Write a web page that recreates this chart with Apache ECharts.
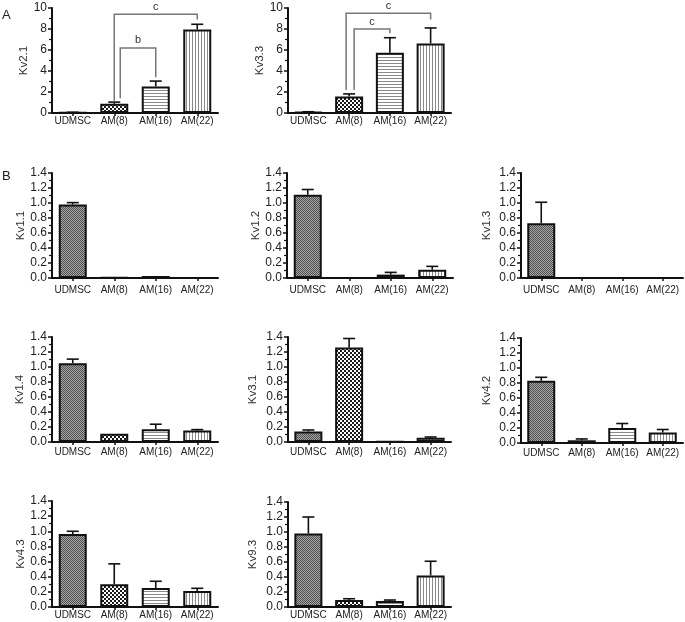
<!DOCTYPE html>
<html>
<head>
<meta charset="utf-8">
<script src="https://cdn.jsdelivr.net/npm/echarts@6/dist/echarts.min.js"></script>
<style>
html,body{margin:0;padding:0;background:#fff;}
#chart{width:685px;height:622px;}
</style>
</head>
<body>
<div id="chart"></div>
<script>
// ---------- DATA ----------
const categories = ['UDMSC', 'AM(8)', 'AM(16)', 'AM(22)'];

const kv21Mean = [0.05, 0.87, 2.52, 7.95];
const kv21Err  = [0.02, 0.17, 0.52, 0.5];
const kv33Mean = [0.1, 1.57, 5.75, 6.62];
const kv33Err  = [0.02, 0.25, 1.42, 1.48];

const kv11Mean = [0.98, 0.01, 0.027, 0.0];
const kv11Err  = [0.025, 0.0, 0.0, 0.0];
const kv12Mean = [1.11, 0.0, 0.045, 0.11];
const kv12Err  = [0.07, 0.0, 0.03, 0.045];
const kv13Mean = [0.73, 0.0, 0.0, 0.0];
const kv13Err  = [0.28, 0.0, 0.0, 0.0];
const kv14Mean = [1.05, 0.11, 0.17, 0.152];
const kv14Err  = [0.055, 0.0, 0.067, 0.013];
const kv31Mean = [0.14, 1.26, 0.005, 0.057];
const kv31Err  = [0.02, 0.12, 0.0, 0.01];
const kv42Mean = [0.83, 0.036, 0.2, 0.14];
const kv42Err  = [0.046, 0.018, 0.06, 0.04];
const kv43Mean = [0.963, 0.3, 0.25, 0.21];
const kv43Err  = [0.037, 0.27, 0.09, 0.037];
const kv93Mean = [0.98, 0.093, 0.08, 0.42];
const kv93Err  = [0.22, 0.017, 0.013, 0.19];

const ticksA = [0, 2, 4, 6, 8, 10];
const ticksB = [0.0, 0.2, 0.4, 0.6, 0.8, 1.0, 1.2, 1.4];

// significance brackets: [fromCat, toCat, barY, legBottomFrom, legBottomTo]
const kv21Brackets = [[1, 2, 6.2, 1.4, 3.4], [1, 3, 9.4, 1.05, 8.9]];
const kv21BracketLabels = ['b', 'c'];
const kv33Brackets = [[1, 2, 8.0, 2.2, 7.6], [1, 3, 9.5, 2.2, 8.9]];
const kv33BracketLabels = ['c', 'c'];

// ---------- PATTERNS ----------
function makePattern(kind) {
  const c = document.createElement('canvas');
  const ctx = c.getContext('2d');
  if (kind === 0) {           // UDMSC: fine grey texture
    c.width = 2; c.height = 2;
    ctx.fillStyle = '#a6a6a6'; ctx.fillRect(0, 0, 2, 2);
    ctx.fillStyle = '#505050'; ctx.fillRect(0, 0, 1, 1); ctx.fillRect(1, 1, 1, 1);
  } else if (kind === 1) {    // AM(8): checkerboard
    c.width = 4; c.height = 4;
    ctx.fillStyle = '#1a1a1a'; ctx.fillRect(0, 0, 4, 4);
    ctx.fillStyle = '#ffffff'; ctx.fillRect(0, 0, 2, 2); ctx.fillRect(2, 2, 2, 2);
  } else if (kind === 2) {    // AM(16): horizontal lines
    c.width = 3; c.height = 3;
    ctx.fillStyle = '#ffffff'; ctx.fillRect(0, 0, 3, 3);
    ctx.fillStyle = '#8a8a8a'; ctx.fillRect(0, 0, 3, 1);
  } else {                    // AM(22): vertical lines
    c.width = 3; c.height = 3;
    ctx.fillStyle = '#ffffff'; ctx.fillRect(0, 0, 3, 3);
    ctx.fillStyle = '#8a8a8a'; ctx.fillRect(0, 0, 1, 3);
  }
  return { image: c, repeat: 'repeat' };
}
const patterns = [0, 1, 2, 3].map(makePattern);

// ---------- LAYOUT ----------
const FONT = '"Liberation Sans", Arial, sans-serif';
const panels = [
  { name: 'Kv2.1', mean: kv21Mean, err: kv21Err, ticks: ticksA, brackets: kv21Brackets, blabels: kv21BracketLabels, legDx: [6, 0],
    grid: { left: 52, top: 8, width: 166, height: 105 }, nameGap: 20, labelMargin: 3 },
  { name: 'Kv3.3', mean: kv33Mean, err: kv33Err, ticks: ticksA, brackets: kv33Brackets, blabels: kv33BracketLabels, legDx: [5, -3],
    grid: { left: 288, top: 8, width: 163, height: 105 }, nameGap: 20, labelMargin: 3 },
  { name: 'Kv1.1', mean: kv11Mean, err: kv11Err, ticks: ticksB, grid: { left: 52, top: 173, width: 166, height: 105 }, nameGap: 25, labelMargin: 7 },
  { name: 'Kv1.2', mean: kv12Mean, err: kv12Err, ticks: ticksB, grid: { left: 287, top: 173, width: 166, height: 105 }, nameGap: 25, labelMargin: 7 },
  { name: 'Kv1.3', mean: kv13Mean, err: kv13Err, ticks: ticksB, grid: { left: 521, top: 173, width: 162, height: 105 }, nameGap: 28, labelMargin: 7 },
  { name: 'Kv1.4', mean: kv14Mean, err: kv14Err, ticks: ticksB, grid: { left: 52, top: 337, width: 166, height: 105 }, nameGap: 26, labelMargin: 5 },
  { name: 'Kv3.1', mean: kv31Mean, err: kv31Err, ticks: ticksB, grid: { left: 288, top: 337, width: 163, height: 105 }, nameGap: 29, labelMargin: 5 },
  { name: 'Kv4.2', mean: kv42Mean, err: kv42Err, ticks: ticksB, grid: { left: 521, top: 338, width: 162, height: 105 }, nameGap: 28, labelMargin: 5 },
  { name: 'Kv4.3', mean: kv43Mean, err: kv43Err, ticks: ticksB, grid: { left: 52, top: 501, width: 166, height: 106 }, nameGap: 25, labelMargin: 3 },
  { name: 'Kv9.3', mean: kv93Mean, err: kv93Err, ticks: ticksB, grid: { left: 288, top: 502, width: 163, height: 105 }, nameGap: 29, labelMargin: 3 }
];

const grids = [], xAxes = [], yAxes = [], series = [];

panels.forEach((p, i) => {
  grids.push(Object.assign({ containLabel: false }, p.grid));
  const tmin = p.ticks[0], tmax = p.ticks[p.ticks.length - 1];
  const interval = p.ticks[1] - p.ticks[0];
  const isA = tmax > 5;
  xAxes.push({
    type: 'category', gridIndex: i, data: categories,
    axisLine: { lineStyle: { color: '#111', width: 2 } },
    axisTick: { show: true, alignWithLabel: true, length: 3, lineStyle: { color: '#111', width: 1.5 } },
    axisLabel: { interval: 0, fontSize: 10, color: '#222', fontFamily: FONT, margin: p.labelMargin }
  });
  yAxes.push({
    type: 'value', gridIndex: i, min: tmin, max: tmax, interval: interval,
    name: p.name, nameLocation: 'middle', nameGap: p.nameGap,
    nameTextStyle: { fontSize: 11.5, color: '#333', fontFamily: FONT },
    axisLine: { show: true, lineStyle: { color: '#111', width: 2 } },
    axisTick: { show: true, length: 4, lineStyle: { color: '#111', width: 1.5 } },
    minorTick: { show: true, splitNumber: 2, length: 3, lineStyle: { color: '#111', width: 1.2 } },
    splitLine: { show: false },
    axisLabel: {
      fontSize: 12, color: '#222', fontFamily: FONT, margin: 5,
      formatter: v => isA ? String(v) : v.toFixed(1)
    }
  });
  series.push({
    type: 'bar', xAxisIndex: i, yAxisIndex: i, barWidth: 28, z: 2,
    data: p.mean.map((v, k) => ({
      value: v,
      itemStyle: { color: patterns[k], borderColor: '#111', borderWidth: 2 }
    }))
  });
  series.push({
    type: 'custom', xAxisIndex: i, yAxisIndex: i, z: 3, silent: true,
    data: p.mean.map((v, k) => [k, v, p.err[k]]),
    renderItem: function (params, api) {
      const e = api.value(2);
      if (!(e > 0)) return null;
      const b = api.coord([api.value(0), api.value(1)]);
      const t = api.coord([api.value(0), api.value(1) + e]);
      const st = { stroke: '#111', lineWidth: 1.6 };
      return {
        type: 'group', children: [
          { type: 'line', shape: { x1: b[0], y1: b[1], x2: t[0], y2: t[1] }, style: st },
          { type: 'line', shape: { x1: t[0] - 6, y1: t[1], x2: t[0] + 6, y2: t[1] }, style: st }
        ]
      };
    }
  });
  if (p.brackets) {
    series.push({
      type: 'custom', xAxisIndex: i, yAxisIndex: i, z: 4, silent: true,
      data: p.brackets.map((b, k) => b.concat([k])),
      renderItem: function (params, api) {
        const k = api.value(5);
        const dx = p.legDx[k];
        const a0 = api.coord([api.value(0), api.value(2)]);
        const a1 = api.coord([api.value(1), api.value(2)]);
        const f = api.coord([api.value(0), api.value(3)]);
        const g = api.coord([api.value(1), api.value(4)]);
        const x1 = a0[0] + dx, x2 = a1[0];
        const st = { stroke: '#777', lineWidth: 1.5, fill: null };
        return {
          type: 'group', children: [
            { type: 'polyline', shape: { points: [[x1, f[1]], [x1, a0[1]], [x2, a1[1]], [x2, g[1]]] }, style: st },
            { type: 'text', style: { text: p.blabels[k], x: (x1 + x2) / 2, y: a0[1] - 2,
              align: 'center', verticalAlign: 'bottom', fontSize: 11, fontFamily: FONT, fill: '#333' } }
          ]
        };
      }
    });
  }
});

const chart = echarts.init(document.getElementById('chart'), null, { renderer: 'canvas' });
chart.setOption({
  backgroundColor: '#fff',
  animation: false,
  grid: grids, xAxis: xAxes, yAxis: yAxes, series: series,
  graphic: [
    { type: 'text', left: 2, top: 9, style: { text: 'A', fontSize: 13, fontFamily: FONT, fill: '#222' } },
    { type: 'text', left: 2, top: 170, style: { text: 'B', fontSize: 13, fontFamily: FONT, fill: '#222' } }
  ]
});
</script>
</body>
</html>
